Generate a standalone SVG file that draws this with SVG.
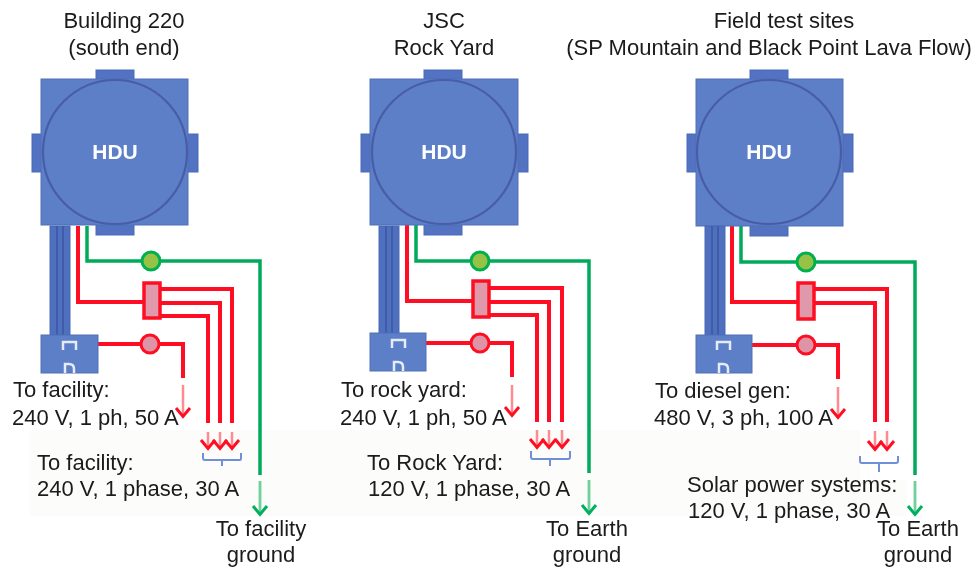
<svg xmlns="http://www.w3.org/2000/svg" width="977" height="567" viewBox="0 0 977 567">
<defs>
<filter id="soft" x="-5%" y="-5%" width="110%" height="110%"><feGaussianBlur stdDeviation="0.6"/></filter>
<marker id="hr" markerUnits="userSpaceOnUse" markerWidth="14" markerHeight="18" refX="12" refY="9" orient="auto" viewBox="0 0 14 18"><path d="M3 2L11.500 9L3 16" fill="none" stroke="#ff1020" stroke-width="3"/></marker>
<marker id="hg" markerUnits="userSpaceOnUse" markerWidth="14" markerHeight="18" refX="12" refY="9" orient="auto" viewBox="0 0 14 18"><path d="M3 2L11.500 9L3 16" fill="none" stroke="#00b060" stroke-width="3"/></marker>
<style>
text{font-family:"Liberation Sans",Arial,sans-serif;font-size:22px;fill:#1a1a1a}
.c{text-anchor:middle}
.hdu{font-size:21px;font-weight:700;fill:#fff;text-anchor:middle}
.b{fill:#5b7fc8;stroke:#4f70b8;stroke-width:1}
.ci{fill:#5b7fc8;stroke:#4a5da6;stroke-width:2.200}
.t{fill:#5273c2;stroke:#4a6ab6;stroke-width:1}
.tb{fill:#4f6fbe;stroke:#4a68b4;stroke-width:1}
.s{fill:none;stroke:#3f5ca8;stroke-width:2}
.pw{fill:none;stroke:#fff;stroke-width:2.500;opacity:.85}
.r{fill:none;stroke:#ff1020;stroke-width:4}
.g{fill:none;stroke:#00aa5a;stroke-width:3.500}
.ra{fill:none;stroke:#ff8a90;stroke-width:2.500;marker-end:url(#hr)}
.ga{fill:none;stroke:#6fd09a;stroke-width:2.800;marker-end:url(#hg)}
.fu{fill:#e098ab;stroke:#ff1020;stroke-width:3.500}
.cp{fill:#dc94a6;stroke:#ff1020;stroke-width:3}
.cg{fill:#96c244;stroke:#00b050;stroke-width:3}
.br{fill:none;stroke:#6f8fd8;stroke-width:2}
</style>
</defs>
<rect x="30" y="430" width="830" height="86" fill="#fcfcfa"/>
<rect x="860" y="480" width="46" height="36" fill="#fcfcfa"/>
<g filter="url(#soft)">
<g id="connectors">
<path class="r" d="M78 226V302H143M161 289H232V423M161 303H220V423M161 316H208V423M98 344H141M159 344H183V378"/>
<path class="g" d="M87 226V261H142M160 261H260V475"/>
<path class="ra" d="M183 385V417"/><path class="ra" d="M208 432V449"/><path class="ra" d="M220 432V449"/><path class="ra" d="M232 432V449"/>
<path class="ga" d="M260 481V515"/>
<path class="r" d="M407 225V301H472M490 288H562V422M490 302H549V422M490 315H537V422M426 343H471M489 343H512V377"/>
<path class="g" d="M416 225V261H471M489 261H589V473"/>
<path class="ra" d="M512 385V416"/><path class="ra" d="M537 430V448"/><path class="ra" d="M549 430V448"/><path class="ra" d="M562 430V448"/>
<path class="ga" d="M589 480V514"/>
<path class="r" d="M732 226V302H797M815 289H887V422M815 303H875V422M752 345H797M815 345H838V379"/>
<path class="g" d="M741 226V262H797M815 262H915V475"/>
<path class="ra" d="M838 387V418"/><path class="ra" d="M875 431V450"/><path class="ra" d="M887 431V450"/>
<path class="ga" d="M915 481V515"/>
</g>
<g id="hdu-1"><rect class="t" x="96" y="70" width="38" height="12"/><rect class="t" x="96" y="222" width="38" height="13"/><rect class="t" x="32" y="134" width="12" height="38"/><rect class="t" x="185" y="134" width="13" height="38"/><rect class="b" x="41" y="79" width="147" height="146"/><circle class="ci" cx="115" cy="152" r="72"/><text class="hdu" x="115" y="159">HDU</text></g>
<g id="tubes-1"><rect class="tb" x="50" y="226" width="20" height="109"/><path class="s" d="M57 226V335M63 226V335"/></g>
<g id="pdu-1"><rect class="b" x="41" y="335" width="57" height="38"/><path class="pw" d="M63 350V342H76V350M65 373V364H69Q74 364 74 369V373"/></g>
<g id="fuse-1"><rect class="fu" x="144" y="283" width="16" height="35"/></g>
<g id="ground-1"><circle class="cg" cx="151" cy="261" r="9"/></g>
<g id="breaker-1"><circle class="cp" cx="150" cy="344" r="9"/></g>
<g id="bracket-1"><path class="br" d="M203 453V458Q203 460 205 460H240Q241 460 241 458V453M222 460V466"/></g>
<g id="hdu-2"><rect class="t" x="424" y="70" width="38" height="12"/><rect class="t" x="424" y="222" width="38" height="13"/><rect class="t" x="361" y="134" width="12" height="38"/><rect class="t" x="515" y="134" width="13" height="38"/><rect class="b" x="370" y="79" width="148" height="146"/><circle class="ci" cx="444" cy="152" r="72"/><text class="hdu" x="444" y="159">HDU</text></g>
<g id="tubes-2"><rect class="tb" x="379" y="226" width="20" height="108"/><path class="s" d="M386 226V334M392 226V334"/></g>
<g id="pdu-2"><rect class="b" x="370" y="333" width="56" height="38"/><path class="pw" d="M392 348V340H405V348M394 371V362H398Q403 362 403 367V371"/></g>
<g id="fuse-2"><rect class="fu" x="473" y="281" width="16" height="36"/></g>
<g id="ground-2"><circle class="cg" cx="480" cy="261" r="9"/></g>
<g id="breaker-2"><circle class="cp" cx="480" cy="343" r="9"/></g>
<g id="bracket-2"><path class="br" d="M531 451V457Q531 459 533 459H568Q570 459 570 457V451M550 459V466"/></g>
<g id="hdu-3"><rect class="t" x="750" y="70" width="38" height="12"/><rect class="t" x="750" y="223" width="38" height="13"/><rect class="t" x="687" y="134" width="12" height="38"/><rect class="t" x="840" y="134" width="13" height="38"/><rect class="b" x="696" y="79" width="147" height="147"/><circle class="ci" cx="769" cy="152" r="72"/><text class="hdu" x="769" y="159">HDU</text></g>
<g id="tubes-3"><rect class="tb" x="705" y="226" width="20" height="109"/><path class="s" d="M712 226V335M718 226V335"/></g>
<g id="pdu-3"><rect class="b" x="696" y="335" width="56" height="38"/><path class="pw" d="M717 350V342H730V350M719 373V364H723Q728 364 728 369V373"/></g>
<g id="fuse-3"><rect class="fu" x="798" y="283" width="16" height="36"/></g>
<g id="ground-3"><circle class="cg" cx="806" cy="262" r="9"/></g>
<g id="breaker-3"><circle class="cp" cx="806" cy="345" r="9"/></g>
<g id="bracket-3"><path class="br" d="M860 456V461Q860 463 862 463H896Q898 463 898 461V456M879 463V472"/></g>
<g id="labels">
<text class="c" x="124" y="28">Building 220</text>
<text class="c" x="124" y="55">(south end)</text>
<text class="c" x="444" y="28">JSC</text>
<text class="c" x="444" y="55">Rock Yard</text>
<text class="c" x="784" y="28">Field test sites</text>
<text class="c" x="769" y="55">(SP Mountain and Black Point Lava Flow)</text>
<text x="13" y="397">To facility:</text>
<text x="12" y="425">240 V, 1 ph, 50 A</text>
<text x="37" y="470">To facility:</text>
<text x="37" y="496">240 V, 1 phase, 30 A</text>
<text class="c" x="261" y="536">To facility</text>
<text class="c" x="261" y="562">ground</text>
<text x="341" y="397">To rock yard:</text>
<text x="340" y="425">240 V, 1 ph, 50 A</text>
<text x="367" y="470">To Rock Yard:</text>
<text x="368" y="496">120 V, 1 phase, 30 A</text>
<text class="c" x="587" y="536">To Earth</text>
<text class="c" x="587" y="562">ground</text>
<text x="655" y="398">To diesel gen:</text>
<text x="654" y="425">480 V, 3 ph, 100 A</text>
<text x="687" y="492">Solar power systems:</text>
<text x="688" y="518">120 V, 1 phase, 30 A</text>
<text class="c" x="918" y="536">To Earth</text>
<text class="c" x="918" y="562">ground</text>
</g>
</g>
</svg>
